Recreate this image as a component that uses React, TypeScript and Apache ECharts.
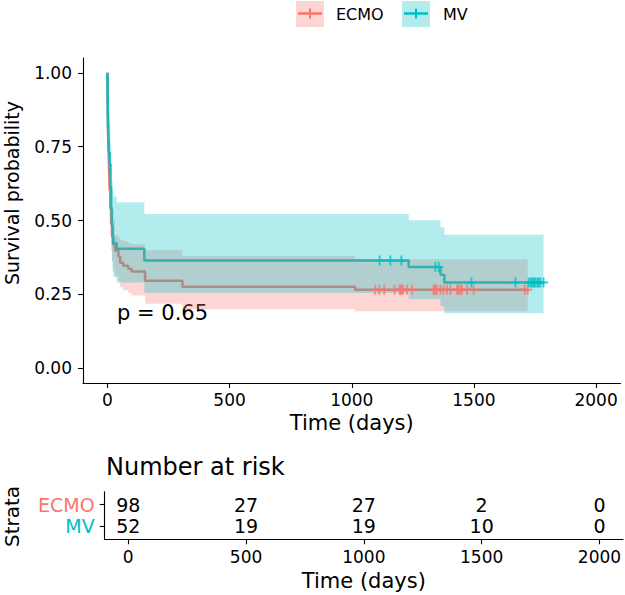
import React, { useEffect, useRef } from 'react';
import * as echarts from 'echarts';

const FONT = 'DejaVu Sans';
const RED = '#F8766D';
const TEAL = '#00BFC4';
const RED_BAND = 'rgba(248,118,109,0.3)';
const TEAL_BAND = 'rgba(0,191,196,0.3)';

// Axis ticks
const xTicks = [0, 500, 1000, 1500, 2000];
const yTicks = [0, 0.25, 0.5, 0.75, 1];

// ECMO Kaplan-Meier steps (time in days, survival, CI upper, CI lower)
const ecmoTimes = [0, 1, 2, 3, 5, 7, 9, 12, 15, 19, 24, 31, 45, 52, 65, 85, 99, 154, 307, 1014];
const ecmoSurv = [1, 0.918, 0.847, 0.786, 0.724, 0.663, 0.602, 0.541, 0.49, 0.449, 0.418, 0.398, 0.378, 0.357, 0.347, 0.337, 0.327, 0.296, 0.2755, 0.2653];
const ecmoUpper = [1, 0.974, 0.921, 0.871, 0.819, 0.764, 0.707, 0.649, 0.6, 0.55, 0.5, 0.45, 0.44, 0.434, 0.43, 0.425, 0.42, 0.4, 0.38, 0.369];
const ecmoLower = [1, 0.866, 0.779, 0.708, 0.641, 0.576, 0.512, 0.451, 0.4, 0.36, 0.331, 0.312, 0.293, 0.274, 0.264, 0.255, 0.246, 0.218, 0.2, 0.193];
const ecmoEnd = 1720;
const ecmoCensor = [1096, 1113, 1133, 1175, 1196, 1200, 1205, 1209, 1226, 1247, 1335, 1339, 1342, 1349, 1363, 1376, 1390, 1404, 1431, 1437, 1444, 1451, 1472, 1499, 1708, 1720];

// MV Kaplan-Meier steps
const mvTimes = [0, 1, 2, 4, 6, 9, 12, 15, 18, 21, 24, 38, 151, 1233, 1363, 1379];
const mvSurv = [1, 0.904, 0.827, 0.769, 0.731, 0.692, 0.615, 0.538, 0.481, 0.442, 0.423, 0.404, 0.365, 0.3425, 0.316, 0.29];
const mvUpper = [1, 0.988, 0.936, 0.892, 0.862, 0.83, 0.763, 0.692, 0.638, 0.6, 0.581, 0.562, 0.522, 0.501, 0.477, 0.452];
const mvLower = [1, 0.827, 0.73, 0.663, 0.619, 0.577, 0.496, 0.419, 0.363, 0.326, 0.308, 0.29, 0.255, 0.234, 0.21, 0.186];
const mvEnd = 1785;
const mvCensor = [1114, 1158, 1203, 1342, 1356, 1490, 1670, 1724, 1732, 1738, 1745, 1750, 1759, 1765, 1772, 1785];

// Number at risk table
const riskTimes = [0, 500, 1000, 1500, 2000];
const riskECMO = [98, 27, 27, 2, 0];
const riskMV = [52, 19, 19, 10, 0];

const pValueText = 'p = 0.65';

function stepPath(times: number[], vals: number[], end: number): number[][] {
  const pts: number[][] = [[times[0], vals[0]]];
  for (let i = 1; i < times.length; i++) {
    pts.push([times[i], vals[i - 1]]);
    pts.push([times[i], vals[i]]);
  }
  pts.push([end, vals[vals.length - 1]]);
  return pts;
}

function bandPolygon(times: number[], up: number[], lo: number[], end: number): number[][] {
  const u = stepPath(times, up, end);
  const l = stepPath(times, lo, end).reverse();
  return u.concat(l);
}

function survAt(times: number[], vals: number[], t: number): number {
  let v = vals[0];
  for (let i = 0; i < times.length; i++) if (times[i] <= t) v = vals[i];
  return v;
}

const plusPath = 'path://M4,0H6V4H10V6H6V10H4V6H0V4H4Z';

export default function App() {
  const ref = useRef<HTMLDivElement>(null);
  useEffect(() => {
    const chart = echarts.init(ref.current!, null, { renderer: 'svg' });
    const ecmoBand = bandPolygon(ecmoTimes, ecmoUpper, ecmoLower, ecmoEnd);
    const mvBand = bandPolygon(mvTimes, mvUpper, mvLower, mvEnd);
    const bandSeries = (poly: number[][], color: string) => ({
      type: 'custom',
      xAxisIndex: 0,
      yAxisIndex: 0,
      z: 3,
      silent: true,
      data: [[0, 0]],
      renderItem: (_p: any, api: any) => ({
        type: 'polygon',
        shape: { points: poly.map((p) => api.coord(p)) },
        style: { fill: color },
      }),
    });
    const riskData: number[][] = [];
    riskTimes.forEach((t, i) => {
      riskData.push([t, 2, riskECMO[i]]);
      riskData.push([t, 1, riskMV[i]]);
    });
    const axisCommon = {
      axisLine: { onZero: false, lineStyle: { color: '#000', width: 1.1 } },
      axisTick: { length: 5, lineStyle: { color: '#000', width: 1.1 } },
      splitLine: { show: false },
    };
    const plain = (v: number) => String(Math.round(Number(v)));
    const option: any = {
      animation: false,
      grid: [
        { left: 83, top: 58, width: 537.5, height: 325 },
        { left: 104.7, top: 491.7, width: 518.3, height: 47.6 },
      ],
      xAxis: [
        {
          type: 'value', gridIndex: 0, min: -100, max: 2100,
          ...axisCommon,
          axisTick: { ...axisCommon.axisTick, customValues: xTicks },
          axisLabel: { customValues: xTicks, formatter: plain, fontSize: 17, fontFamily: FONT, color: '#000', margin: 8 },
          name: 'Time (days)', nameLocation: 'middle', nameGap: 29,
          nameTextStyle: { fontSize: 21, fontFamily: FONT, color: '#000' },
        },
        {
          type: 'value', gridIndex: 1, min: -100, max: 2100,
          ...axisCommon,
          axisTick: { ...axisCommon.axisTick, customValues: xTicks },
          axisLabel: { customValues: xTicks, formatter: plain, fontSize: 17, fontFamily: FONT, color: '#000', margin: 9 },
          name: 'Time (days)', nameLocation: 'middle', nameGap: 31,
          nameTextStyle: { fontSize: 21, fontFamily: FONT, color: '#000' },
        },
      ],
      yAxis: [
        {
          type: 'value', gridIndex: 0, min: -0.05, max: 1.05,
          ...axisCommon,
          axisTick: { ...axisCommon.axisTick, customValues: yTicks },
          axisLabel: {
            customValues: yTicks, fontSize: 17, fontFamily: FONT, color: '#000', margin: 11,
            formatter: (v: number) => Number(v).toFixed(2),
          },
        },
        {
          type: 'value', gridIndex: 1, min: 0.4, max: 2.6,
          ...axisCommon,
          axisTick: { ...axisCommon.axisTick, customValues: [1, 2] },
          axisLabel: {
            customValues: [1, 2], margin: 10,
            formatter: (v: number) => (Number(v) === 2 ? '{e|ECMO}' : Number(v) === 1 ? '{m|MV}' : ''),
            rich: {
              e: { color: RED, fontSize: 19, lineHeight: 18, fontFamily: FONT },
              m: { color: TEAL, fontSize: 19, lineHeight: 18, fontFamily: FONT },
            },
          },
        },
      ],
      graphic: [
        { type: 'rect', shape: { x: 296, y: 1, width: 28, height: 26 }, style: { fill: RED_BAND } },
        { type: 'line', shape: { x1: 298, y1: 13.5, x2: 322, y2: 13.5 }, style: { stroke: RED, lineWidth: 2.5 } },
        { type: 'line', shape: { x1: 310, y1: 8.5, x2: 310, y2: 18.5 }, style: { stroke: RED, lineWidth: 2 } },
        { type: 'text', x: 336, y: 14.5, style: { text: 'ECMO', fontSize: 16, fontFamily: FONT, fill: '#000', align: 'left', verticalAlign: 'middle' } },
        { type: 'rect', shape: { x: 402, y: 1, width: 28, height: 26 }, style: { fill: TEAL_BAND } },
        { type: 'line', shape: { x1: 404, y1: 13.5, x2: 428, y2: 13.5 }, style: { stroke: TEAL, lineWidth: 2.5 } },
        { type: 'line', shape: { x1: 416, y1: 8.5, x2: 416, y2: 18.5 }, style: { stroke: TEAL, lineWidth: 2 } },
        { type: 'text', x: 443, y: 14.5, style: { text: 'MV', fontSize: 16, fontFamily: FONT, fill: '#000', align: 'left', verticalAlign: 'middle' } },
        { type: 'text', x: 117, y: 313, style: { text: pValueText, fontSize: 21, fontFamily: FONT, fill: '#000', align: 'left', verticalAlign: 'middle' } },
        { type: 'text', x: 12, y: 193, rotation: Math.PI / 2, style: { text: 'Survival probability', fontSize: 19, fontFamily: FONT, fill: '#000', align: 'center', verticalAlign: 'middle' } },
        { type: 'text', x: 106, y: 466.5, style: { text: 'Number at risk', fontSize: 24, fontFamily: FONT, fill: '#000', align: 'left', verticalAlign: 'middle' } },
        { type: 'text', x: 12, y: 516.5, rotation: Math.PI / 2, style: { text: 'Strata', fontSize: 20, fontFamily: FONT, fill: '#000', align: 'center', verticalAlign: 'middle' } },
      ],
      series: [
        {
          type: 'line', xAxisIndex: 0, yAxisIndex: 0, z: 2, silent: true, showSymbol: false,
          data: stepPath(ecmoTimes, ecmoSurv, ecmoEnd),
          lineStyle: { color: RED, width: 2.5 }, itemStyle: { color: RED },
        },
        {
          type: 'line', xAxisIndex: 0, yAxisIndex: 0, z: 2, silent: true, showSymbol: false,
          data: stepPath(mvTimes, mvSurv, mvEnd),
          lineStyle: { color: TEAL, width: 2.5 }, itemStyle: { color: TEAL },
        },
        bandSeries(ecmoBand, RED_BAND),
        bandSeries(mvBand, TEAL_BAND),
        {
          type: 'scatter', xAxisIndex: 0, yAxisIndex: 0, z: 4, silent: true,
          symbol: plusPath, symbolSize: [9, 10],
          data: ecmoCensor.map((t) => [t, survAt(ecmoTimes, ecmoSurv, t)]),
          itemStyle: { color: RED },
        },
        {
          type: 'scatter', xAxisIndex: 0, yAxisIndex: 0, z: 4, silent: true,
          symbol: plusPath, symbolSize: [9, 10],
          data: mvCensor.map((t) => [t, survAt(mvTimes, mvSurv, t)]),
          itemStyle: { color: TEAL },
        },
        {
          type: 'custom', xAxisIndex: 1, yAxisIndex: 1, z: 4, silent: true,
          data: riskData,
          renderItem: (_p: any, api: any) => {
            const c = api.coord([api.value(0), api.value(1)]);
            return {
              type: 'text', x: c[0], y: c[1],
              style: { text: String(api.value(2)), fontSize: 19, lineHeight: 18, fontFamily: FONT, fill: '#000', align: 'center', verticalAlign: 'middle' },
            };
          },
        },
      ],
    };
    chart.setOption(option);
    return () => chart.dispose();
  }, []);
  return <div ref={ref} style={{ position: 'absolute', left: 0, top: 0, width: 625, height: 595 }} />;
}
